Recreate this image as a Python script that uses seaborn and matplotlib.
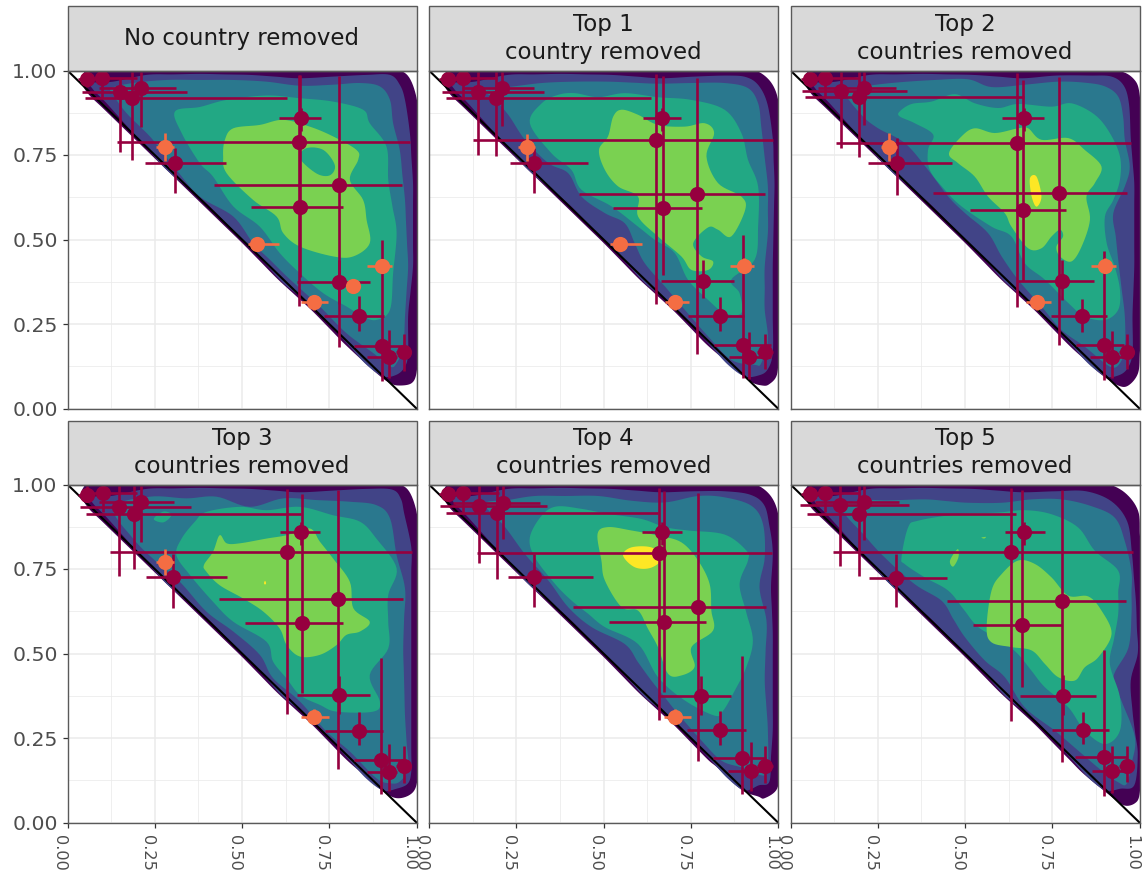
import numpy as np
import pandas as pd
import matplotlib
matplotlib.use("Agg")
import matplotlib.pyplot as plt
from matplotlib.patches import Rectangle
import seaborn as sns

TITLES = ["No country removed", "Top 1\ncountry removed", "Top 2\ncountries removed",
          "Top 3\ncountries removed", "Top 4\ncountries removed", "Top 5\ncountries removed"]
TICKS = [0, .25, .5, .75, 1]
TICK_LABELS = ["0.00", "0.25", "0.50", "0.75", "1.00"]
FILLS = ["#440154", "#414487", "#2A788E", "#22A884", "#7AD151", "#FDE725"]

# estimate, x low, x high, y estimate, y low, y high
MAIN_1 = [(.056,.03,.08,.974,.95,.995),(.098,.055,.2,.977,.92,1),(.151,.041,.343,.935,.758,.977),(.186,.05,.63,.918,.736,.997),
          (.212,.09,.31,.948,.834,.997),(.307,.223,.453,.725,.637,.77),(.663,.142,.981,.788,.302,.987),(.668,.606,.726,.858,.82,.89),
          (.667,.525,.79,.596,.39,.987),(.777,.42,.959,.66,.183,.984),(.779,.658,.868,.375,.31,.44),(.836,.735,.906,.273,.228,.333),
          (.90,.82,.96,.186,.08,.50),(.92,.857,.945,.151,.09,.233),(.963,.94,.985,.166,.11,.22)]
MAIN_2 = [(.055,.03,.08,.974,.95,.995),(.098,.055,.194,.977,.913,1),(.14,.036,.33,.937,.75,.997),(.191,.049,.635,.92,.748,.997),
          (.209,.094,.30,.947,.837,.997),(.30,.232,.457,.726,.639,.77),(.651,.127,.987,.793,.31,.99),(.669,.612,.723,.858,.82,.89),
          (.67,.526,.783,.594,.395,.984),(.767,.429,.964,.635,.162,.978),(.784,.664,.873,.378,.327,.44),(.834,.742,.903,.274,.228,.329),
          (.899,.817,.98,.188,.09,.513),(.917,.859,.98,.151,.088,.225),(.963,.94,.985,.166,.116,.22)]
MAIN_3 = [(.055,.03,.08,.974,.95,.995),(.10,.055,.2,.977,.92,1),(.146,.032,.335,.939,.77,.997),(.196,.041,.67,.921,.743,.997),
          (.21,.08,.302,.947,.84,.997),(.306,.223,.464,.725,.632,.80),(.65,.129,.977,.786,.30,.994),(.67,.606,.726,.858,.82,.89),
          (.666,.514,.788,.588,.376,.972),(.77,.407,.964,.638,.188,.98),(.777,.652,.869,.376,.32,.438),(.834,.745,.908,.273,.227,.324),
          (.899,.817,.956,.188,.085,.467),(.92,.857,.977,.152,.09,.23),(.964,.94,.985,.166,.116,.22)]
MAIN_4 = [(.056,.03,.08,.97,.95,.995),(.101,.055,.2,.974,.92,1),(.148,.037,.355,.933,.73,.996),(.19,.052,.67,.913,.749,.996),
          (.211,.09,.304,.947,.83,.996),(.302,.226,.457,.725,.635,.793),(.628,.121,.988,.80,.32,.988),(.669,.609,.723,.858,.82,.89),
          (.673,.508,.788,.591,.384,.973),(.775,.435,.96,.66,.159,.983),(.779,.658,.868,.376,.32,.433),(.836,.737,.904,.271,.23,.328),
          (.897,.82,.966,.185,.084,.486),(.922,.857,.945,.15,.092,.232),(.963,.94,.985,.166,.116,.225)]
MAIN_5 = [(.055,.03,.08,.972,.95,.995),(.098,.055,.2,.976,.92,1),(.143,.032,.337,.935,.767,.996),(.195,.048,.656,.915,.719,.996),
          (.211,.07,.318,.945,.84,.996),(.302,.227,.47,.725,.638,.793),(.658,.138,.984,.796,.302,.99),(.667,.609,.725,.858,.82,.89),
          (.672,.515,.793,.594,.385,.98),(.77,.413,.965,.639,.182,.975),(.779,.656,.866,.373,.319,.432),(.835,.74,.909,.275,.228,.329),
          (.898,.815,.967,.19,.084,.492),(.922,.857,.967,.151,.092,.237),(.962,.94,.985,.167,.116,.225)]
MAIN_6 = [(.055,.03,.08,.972,.95,.995),(.098,.055,.2,.976,.92,1),(.142,.028,.339,.938,.76,.996),(.196,.048,.645,.914,.73,.996),
          (.21,.071,.31,.947,.835,.996),(.303,.224,.449,.722,.639,.794),(.633,.122,.982,.801,.30,.99),(.668,.614,.729,.858,.82,.89),
          (.663,.523,.778,.584,.40,.984),(.779,.447,.961,.656,.178,.984),(.782,.657,.874,.374,.319,.437),(.839,.75,.913,.274,.232,.328),
          (.899,.815,.963,.195,.077,.511),(.922,.863,.967,.152,.087,.225),(.964,.94,.985,.167,.119,.227)]

HI_1 = [(.279,.255,.305,.774,.731,.815),(.544,.518,.605,.486,.475,.497),(.707,.67,.745,.315,.292,.336),
        (.818,.80,.836,.361,.345,.377),(.902,.859,.931,.421,.40,.44)]
HI_2 = [(.28,.255,.305,.774,.733,.812),(.547,.52,.61,.486,.475,.497),(.705,.676,.745,.315,.292,.336),(.902,.862,.93,.421,.40,.445)]
HI_3 = [(.281,.26,.305,.774,.733,.815),(.707,.675,.747,.315,.292,.336),(.902,.862,.933,.421,.40,.445)]
HI_4 = [(.279,.255,.305,.771,.733,.81),(.707,.67,.75,.313,.292,.336)]
HI_5 = [(.705,.673,.752,.313,.292,.336)]
HI_6 = []

# density band outlines (x, y)
TEAL_1 = [(.126,.948),(.188,.963),(.284,.972),(.379,.972),(.475,.972),(.57,.967),(.666,.955),(.761,.958),(.838,.963),(.895,.953),(.924,.913),(.933,.844),(.952,.765),(.967,.617),(.976,.42),(.967,.272),(.962,.183),(.943,.134),(.924,.124),(.876,.164),(.799,.223),(.723,.302),(.628,.391),(.532,.489),(.475,.568),(.379,.627),(.312,.706),(.236,.805),(.169,.874),(.131,.928)]
GREEN_1 = [(.308,.879),(.379,.892),(.456,.913),(.57,.926),(.666,.918),(.761,.908),(.847,.884),(.866,.844),(.914,.775),(.919,.677),(.943,.519),(.933,.4),(.924,.292),(.885,.262),(.847,.272),(.799,.302),(.733,.341),(.666,.4),(.608,.46),(.551,.538),(.475,.598),(.417,.686),(.379,.726),(.327,.815)]
LIME_1 = [(.451,.795),(.475,.829),(.551,.839),(.618,.854),(.694,.834),(.761,.805),(.828,.765),(.833,.736),(.809,.677),(.847,.617),(.857,.558),(.866,.489),(.819,.45),(.761,.45),(.666,.479),(.618,.519),(.599,.568),(.532,.617),(.456,.696),(.446,.746)]
HOLE_1 = [(.684,.77),(.733,.765),(.766,.72),(.752,.69),(.714,.695),(.666,.74)]

TEAL_2 = [(.141,.943),(.227,.951),(.323,.963),(.418,.967),(.513,.967),(.656,.961),(.752,.963),(.847,.963),(.914,.948),(.943,.903),(.952,.834),(.971,.657),(.971,.519),(.962,.42),(.962,.292),(.971,.203),(.952,.134),(.933,.129),(.866,.144),(.8,.213),(.733,.292),(.676,.361),(.618,.43),(.561,.548),(.504,.578),(.437,.627),(.399,.696),(.342,.726),(.275,.795),(.227,.869),(.179,.923)]
GREEN_2 = [(.289,.844),(.323,.903),(.37,.928),(.418,.933),(.485,.921),(.561,.933),(.656,.921),(.752,.913),(.847,.884),(.895,.815),(.914,.736),(.943,.657),(.943,.538),(.933,.44),(.866,.381),(.89,.341),(.895,.282),(.847,.282),(.8,.321),(.742,.381),(.704,.46),(.647,.499),(.599,.538),(.523,.598),(.437,.647),(.408,.706),(.351,.755)]
LIME_2 = [(.528,.864),(.552,.884),(.599,.869),(.656,.839),(.733,.834),(.79,.844),(.817,.815),(.795,.746),(.828,.667),(.895,.627),(.906,.588),(.866,.509),(.828,.529),(.8,.536),(.757,.489),(.781,.45),(.814,.435),(.8,.41),(.752,.41),(.723,.45),(.656,.509),(.599,.568),(.599,.627),(.542,.657),(.504,.706),(.487,.765),(.513,.805)]

TEAL_3 = [(.156,.938),(.213,.953),(.299,.964),(.414,.972),(.509,.974),(.576,.951),(.671,.958),(.767,.967),(.843,.964),(.901,.953),(.939,.923),(.953,.864),(.958,.795),(.972,.716),(.958,.657),(.925,.578),(.939,.44),(.958,.272),(.958,.183),(.944,.134),(.915,.124),(.843,.183),(.776,.233),(.719,.302),(.652,.381),(.605,.45),(.566,.519),(.5,.578),(.452,.627),(.394,.706),(.328,.785),(.251,.829),(.203,.869)]
GREEN_3 = [(.313,.879),(.347,.901),(.404,.908),(.471,.93),(.528,.903),(.595,.889),(.652,.901),(.748,.893),(.805,.903),(.872,.869),(.915,.815),(.944,.746),(.944,.677),(.925,.617),(.901,.568),(.906,.489),(.929,.42),(.944,.351),(.939,.292),(.901,.262),(.843,.272),(.796,.312),(.729,.381),(.671,.43),(.633,.509),(.576,.538),(.49,.598),(.442,.647),(.399,.706),(.394,.765),(.409,.81),(.356,.844),(.313,.864)]
LIME_3 = [(.454,.755),(.49,.805),(.528,.829),(.585,.815),(.652,.829),(.681,.829),(.719,.795),(.796,.8),(.843,.765),(.891,.716),(.872,.667),(.848,.627),(.858,.558),(.834,.479),(.805,.435),(.772,.45),(.762,.479),(.781,.509),(.772,.529),(.748,.509),(.719,.474),(.681,.474),(.633,.538),(.614,.578),(.566,.627),(.528,.686),(.48,.726)]
YELLOW_3 = [(.686,.681),(.705,.686),(.719,.627),(.705,.597),(.691,.627)]

TEAL_4 = [(.131,.932),(.236,.964),(.341,.959),(.427,.964),(.522,.934),(.618,.959),(.713,.954),(.809,.949),(.885,.939),(.924,.9),(.943,.791),(.967,.693),(.962,.515),(.967,.318),(.976,.161),(.952,.121),(.924,.116),(.885,.131),(.809,.21),(.742,.269),(.666,.358),(.589,.427),(.551,.496),(.475,.565),(.398,.624),(.322,.712),(.255,.771),(.188,.84)]
GREEN_4 = [(.365,.89),(.398,.919),(.494,.934),(.57,.924),(.666,.934),(.761,.909),(.838,.89),(.885,.84),(.943,.752),(.919,.673),(.919,.515),(.866,.436),(.895,.358),(.876,.328),(.771,.328),(.723,.348),(.666,.377),(.589,.476),(.57,.535),(.475,.594),(.417,.653),(.351,.732),(.312,.791),(.327,.84)]
BLOB_4 = [(.247,.898),(.275,.92),(.298,.91),(.275,.888)]
LIME_4 = [(.391,.762),(.417,.801),(.436,.85),(.456,.826),(.494,.826),(.57,.84),(.628,.85),(.694,.87),(.723,.831),(.761,.781),(.809,.712),(.819,.634),(.866,.594),(.838,.565),(.799,.555),(.771,.525),(.723,.496),(.666,.491),(.628,.525),(.608,.574),(.561,.624),(.503,.663),(.436,.702),(.398,.742)]
YELLOW_4 = [(.563,.708),(.566,.715),(.569,.708),(.566,.704)]

TEAL_5 = [(.16,.942),(.227,.954),(.303,.966),(.389,.966),(.485,.966),(.58,.952),(.676,.947),(.771,.966),(.847,.962),(.924,.937),(.957,.883),(.962,.784),(.947,.696),(.967,.597),(.962,.42),(.971,.272),(.971,.163),(.957,.139),(.895,.163),(.838,.183),(.781,.242),(.714,.321),(.637,.42),(.561,.528),(.466,.578),(.399,.637),(.342,.716),(.275,.794),(.218,.874)]
GREEN_5 = [(.289,.844),(.323,.908),(.365,.935),(.437,.928),(.513,.913),(.609,.898),(.676,.874),(.742,.864),(.847,.852),(.909,.805),(.914,.775),(.89,.706),(.928,.538),(.909,.459),(.876,.39),(.843,.331),(.819,.316),(.733,.361),(.656,.43),(.599,.528),(.504,.578),(.408,.657),(.361,.706),(.303,.785)]
LIME_5 = [(.483,.854),(.513,.874),(.58,.864),(.656,.849),(.723,.829),(.771,.775),(.804,.706),(.809,.627),(.814,.568),(.752,.519),(.761,.46),(.723,.435),(.685,.44),(.656,.519),(.599,.627),(.552,.637),(.504,.716),(.494,.775)]
YELLOW_5 = [(.556,.79),(.58,.814),(.637,.814),(.671,.785),(.637,.754),(.59,.755)]

TEAL_6 = [(.146,.932),(.213,.953),(.28,.953),(.385,.956),(.509,.946),(.605,.946),(.691,.956),(.777,.956),(.862,.936),(.929,.902),(.958,.832),(.977,.742),(.977,.614),(.968,.516),(.925,.43),(.948,.361),(.987,.252),(.977,.173),(.963,.114),(.939,.119),(.891,.154),(.824,.213),(.757,.272),(.671,.341),(.614,.43),(.557,.479),(.5,.548),(.433,.656),(.356,.705),(.27,.784),(.213,.848)]
GREEN_6 = [(.318,.784),(.337,.873),(.366,.893),(.48,.912),(.595,.917),(.671,.924),(.748,.912),(.824,.873),(.872,.804),(.939,.745),(.939,.617),(.915,.469),(.944,.37),(.944,.272),(.901,.232),(.843,.272),(.796,.341),(.729,.4),(.652,.498),(.605,.538),(.538,.578),(.452,.686),(.385,.725),(.328,.764)]
LIME_6 = [(.576,.686),(.605,.735),(.652,.775),(.7,.765),(.748,.725),(.796,.671),(.853,.669),(.891,.627),(.92,.558),(.882,.489),(.843,.459),(.815,.42),(.767,.43),(.729,.469),(.691,.509),(.633,.519),(.576,.533),(.562,.577)]
BLOB_6A = [(.457,.775),(.479,.809),(.481,.784),(.466,.757)]
BLOB_6B = [(.547,.843),(.56,.845),(.555,.84)]

BLUE_TOP = [(.069,.963),(.131,.967),(.226,.987),(.379,.99),(.522,.987),(.666,.977)]
BLUE_LOW = [(.904,.095),(.857,.129),(.809,.183),(.713,.292),(.618,.371),(.522,.479),(.398,.607),(.284,.706),(.188,.815),(.112,.903),(.074,.943)]
BLUE_1 = [(.761,.982),(.857,.987),(.924,.987),(.952,.958),(.967,.913),(.981,.815),(.99,.667),(.99,.42),(.976,.272),(.976,.164),(.967,.124),(.943,.1)]
BLUE_2 = [(.761,.982),(.857,.985),(.91,.98),(.945,.955),(.97,.9),(.985,.8),(.99,.667),(.985,.42),(.985,.272),(.985,.164),(.97,.115),(.945,.098)]
BLUE_3 = [(.761,.985),(.857,.985),(.92,.982),(.955,.955),(.97,.9),(.975,.8),(.985,.667),(.985,.42),(.98,.272),(.98,.164),(.965,.118),(.94,.098)]
BLUE_4 = [(.761,.982),(.857,.987),(.93,.985),(.955,.958),(.965,.913),(.985,.815),(.985,.667),(.985,.42),(.985,.272),(.985,.15),(.975,.115),(.943,.1)]
BLUE_5 = [(.761,.98),(.847,.98),(.92,.97),(.96,.94),(.975,.88),(.985,.8),(.98,.7),(.985,.56),(.985,.42),(.985,.272),(.975,.12),(.945,.11)]
BLUE_6 = [(.761,.98),(.847,.98),(.92,.95),(.965,.89),(.978,.8),(.99,.65),(.995,.5),(.975,.42),(.98,.33),(.995,.2),(.985,.11),(.945,.1)]
DARK_EDGE = [(.8,.185),(.7,.29),(.6,.385),(.5,.49),(.4,.59),(.3,.69),(.2,.79),(.1,.89),(.06,.93),(.04,.965),(.045,.99),(.07,1.012),(.3,1.012),(.6,1.012)]
DARK_1 = [(.93,1.005),(.975,.985),(1.0,.92),(1.012,.7),(1.012,.3),(1.0,.105),(.986,.075),(.952,.068),(.924,.075),(.885,.105)]
DARK_2 = [(.9,1.005),(.943,.997),(.98,.965),(1.0,.915),(1.012,.7),(1.012,.3),(.997,.1),(.975,.072),(.955,.068),(.92,.08),(.875,.12)]
DARK_3 = [(.948,.997),(.986,.972),(1.0,.933),(1.012,.7),(1.012,.3),(.996,.105),(.968,.068),(.939,.068),(.891,.1)]
DARK_4 = [(.93,1.005),(.975,.985),(1.0,.92),(1.012,.7),(1.012,.3),(1.0,.111),(.981,.082),(.943,.072),(.904,.092)]
DARK_5 = [(.9,1.005),(.943,.997),(.98,.965),(1.0,.915),(1.012,.7),(1.012,.3),(.998,.101),(.962,.072),(.943,.077),(.895,.097),(.828,.161)]
DARK_6 = [(.9,1.005),(.958,.976),(.996,.922),(1.012,.7),(1.012,.3),(1.0,.082),(.987,.057),(.958,.05),(.925,.072),(.843,.141)]

BANDS = [
    [(0, DARK_1 + DARK_EDGE), (1, BLUE_TOP + BLUE_1 + BLUE_LOW), (2, TEAL_1), (3, GREEN_1), (4, LIME_1), (3, HOLE_1)],
    [(0, DARK_2 + DARK_EDGE), (1, BLUE_TOP + BLUE_2 + BLUE_LOW), (2, TEAL_2), (3, GREEN_2), (4, LIME_2)],
    [(0, DARK_3 + DARK_EDGE), (1, BLUE_TOP + BLUE_3 + BLUE_LOW), (2, TEAL_3), (3, GREEN_3), (4, LIME_3), (5, YELLOW_3)],
    [(0, DARK_4 + DARK_EDGE), (1, BLUE_TOP + BLUE_4 + BLUE_LOW), (2, TEAL_4), (3, GREEN_4), (3, BLOB_4), (4, LIME_4), (5, YELLOW_4)],
    [(0, DARK_5 + DARK_EDGE), (1, BLUE_TOP + BLUE_5 + BLUE_LOW), (2, TEAL_5), (3, GREEN_5), (4, LIME_5), (5, YELLOW_5)],
    [(0, DARK_6 + DARK_EDGE), (1, BLUE_TOP + BLUE_6 + BLUE_LOW), (2, TEAL_6), (3, GREEN_6), (4, LIME_6), (4, BLOB_6A), (4, BLOB_6B)],
]
MAINS = [MAIN_1, MAIN_2, MAIN_3, MAIN_4, MAIN_5, MAIN_6]
HIS = [HI_1, HI_2, HI_3, HI_4, HI_5, HI_6]


def smooth(pts, n=8):
    p = np.asarray(pts, float)
    dense = []
    for i in range(len(p)):
        a, b = p[i], p[(i + 1) % len(p)]
        k = max(1, int(np.hypot(*(b - a)) / .06))
        dense.extend(a + (b - a) * j / k for j in range(k))
    p = np.array(dense)
    t = np.linspace(0, 1, n, endpoint=False)[:, None]
    out = []
    for i in range(len(p)):
        p0, p1, p2, p3 = p[i - 1], p[i], p[(i + 1) % len(p)], p[(i + 2) % len(p)]
        out.append(.5 * (2 * p1 + (p2 - p0) * t + (2 * p0 - 5 * p1 + 4 * p2 - p3) * t ** 2
                         + (3 * p1 - p0 - 3 * p2 + p3) * t ** 3))
    return np.vstack(out)


rows = []
for title, main, hi in zip(TITLES, MAINS, HIS):
    for kind, group in (("main", main), ("hi", hi)):
        for r in group:
            rows.append(dict(panel=title, kind=kind, x=r[0], xlo=r[1], xhi=r[2], y=r[3], ylo=r[4], yhi=r[5]))
df = pd.DataFrame(rows)

sns.set_theme(style="white", font="DejaVu Sans")
g = sns.FacetGrid(df, col="panel", col_order=TITLES, col_wrap=3, sharex=True, sharey=True,
                  despine=False, height=3, aspect=1.0)
fig = g.figure
fig.set_size_inches(11.44, 8.73)
fig.set_dpi(100)

W, H = 1144, 873
LEFTS = [67.5, 429.0, 790.5]
BOTTOMS = [408.5, 822.5]
AW, AH = 349.0, 338.0
STRIP = 64.0 / AH
CRIMSON, ORANGE = "#96003F", "#F46D43"

for i, ax in enumerate(g.axes.flat):
    col, row = i % 3, i // 3
    ax.set_position([LEFTS[col] / W, 1 - BOTTOMS[row] / H, AW / W, AH / H])
    ax.set_xlim(0, 1)
    ax.set_ylim(0, 1)
    ax.set_axisbelow(True)
    ax.set_xticks(TICKS)
    ax.set_yticks(TICKS)
    ax.set_xticks([.125, .375, .625, .875], minor=True)
    ax.set_yticks([.125, .375, .625, .875], minor=True)
    ax.grid(True, which="major", color="#EBEBEB", lw=1.1)
    ax.grid(True, which="minor", color="#EBEBEB", lw=.55)
    ax.tick_params(which="minor", length=0)
    ax.tick_params(which="major", length=3.6, width=.9, color="#333333", labelcolor="#4D4D4D")
    ax.tick_params(axis="x", labelsize=11.6, pad=5.5, bottom=row == 1, labelbottom=row == 1)
    ax.tick_params(axis="y", labelsize=14.7, pad=3.5, left=col == 0, labelleft=col == 0)
    if row == 1:
        ax.set_xticklabels(TICK_LABELS, rotation=270, ha="right", va="top")
    if col == 0:
        ax.set_yticklabels(TICK_LABELS)
    ax.set_xlabel("")
    ax.set_ylabel("")
    ax.set_title("")
    for s in ax.spines.values():
        s.set_color("#5A5A5A")
        s.set_linewidth(1.0)
        s.set_zorder(8)

    for level, outline in BANDS[i]:
        xy = smooth(outline)
        ax.fill(xy[:, 0], xy[:, 1], color=FILLS[level], lw=0, zorder=1)

    ax.plot([0, 1], [1, 0], color="black", lw=1.5, zorder=2)

    sub = df[df.panel == TITLES[i]]
    for kind, colour, z in (("main", CRIMSON, 3), ("hi", ORANGE, 4)):
        d = sub[sub.kind == kind]
        if d.empty:
            continue
        ax.hlines(d.y, d.xlo, d.xhi, color=colour, lw=1.9, zorder=z)
        ax.vlines(d.x, d.ylo, d.yhi, color=colour, lw=1.9, zorder=z)
        sns.scatterplot(data=d, x="x", y="y", ax=ax, color=colour, s=120, linewidth=0, zorder=z + .5, legend=False)
    ax.set_xlabel("")
    ax.set_ylabel("")

    ax.add_patch(Rectangle((0, 1), 1, STRIP, transform=ax.transAxes, clip_on=False,
                           facecolor="#D9D9D9", edgecolor="#5A5A5A", lw=1.0, zorder=6))
    ax.text(.5, 1 + STRIP / 2, TITLES[i], transform=ax.transAxes, ha="center", va="center",
            fontsize=16.5, color="#1A1A1A", linespacing=1.27, zorder=7)

fig.savefig("out.png", dpi=100)
